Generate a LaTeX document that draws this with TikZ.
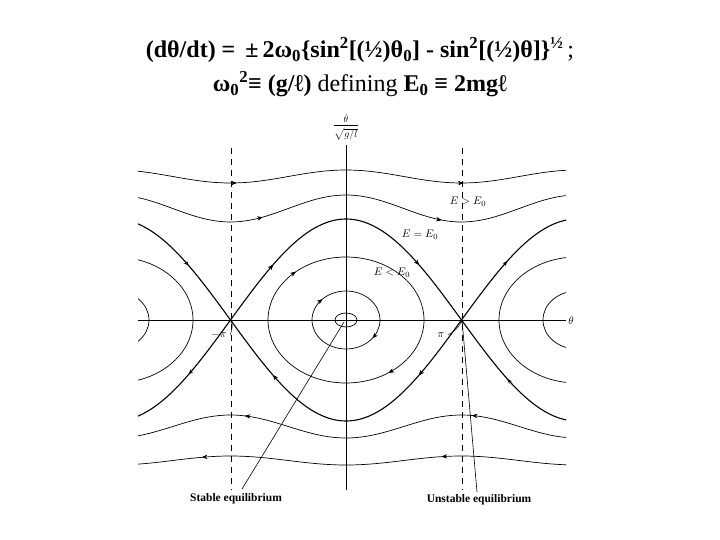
\documentclass[tikz,border=0pt]{standalone}
\usepackage{fontspec}
\setmainfont{Liberation Serif}
\usetikzlibrary{decorations.markings,arrows.meta}
\begin{document}
\begin{tikzpicture}[x=1pt,y=-1pt,
  curve/.style={line width=0.7pt},
  sep/.style={line width=1.1pt},
  ar/.style={postaction={decorate},decoration={markings,mark=at position #1 with {\arrow{Stealth[length=5pt,width=4pt]}}}},
  lab/.style={font=\fontsize{11}{12}\selectfont},
  blab/.style={font=\fontsize{11.5}{12}\selectfont\bfseries}]
\useasboundingbox (0,0) rectangle (720,540);
\node[font=\fontsize{24}{26}\selectfont\bfseries] (t1) at (360,50) {(dθ/dt) = \,±\,2ω\textsubscript{0}\{sin\textsuperscript{2}[(½)θ\textsubscript{0}] - sin\textsuperscript{2}[(½)θ]\}\textsuperscript{½}\,\textmd{;}};
\node[font=\fontsize{24}{26}\selectfont] (t2) at (360,84) {\textbf{ω\textsubscript{0}\textsuperscript{2}≡ (g/ℓ)} defining \textbf{E\textsubscript{0} ≡ 2mgℓ}};
% axes
\draw[line width=0.6pt] (138,320) -- (566,320);
\draw[line width=0.6pt] (346,145) -- (346,490);
\node[lab] (th) at (571,321) {$\theta$};
\node[font=\fontsize{9}{10}\selectfont,inner sep=0pt,anchor=south] (yl) at (346,123) {$\dot\theta$};
\draw (334,125.5) -- (358,125.5);
\node[font=\fontsize{10}{11}\selectfont,inner sep=0pt,anchor=north] (yl2) at (346,128) {$\sqrt{g/l}$};
\draw[dashed,line width=0.8pt,dash pattern=on 6pt off 5pt] (231,148) -- (231,490);
\draw[dashed,line width=0.8pt,dash pattern=on 6pt off 5pt] (462,148) -- (462,490);
\begin{scope}
\clip (138,140) rectangle (566,495);
% wavy rotations
\draw[curve,ar=0.23,ar=0.76] plot[domain=-208:220,samples=80] ({346+\x},{320-(143.5+6.5*cos(\x/115.5*180))});
\draw[curve,ar=0.29,ar=0.71] plot[domain=-208:220,samples=80] ({346+\x},{320-(111.5+13.5*cos(\x/115.5*180))});
\draw[curve,ar=0.22,ar=0.75] plot[domain=220:-208,samples=80] ({346+\x},{320+(106.5+11.5*cos(\x/115.5*180))});
\draw[curve,ar=0.29,ar=0.85] plot[domain=220:-208,samples=80] ({346+\x},{320+(140.5+4.5*cos(\x/115.5*180))});
% separatrices
\draw[sep,ar=0.22,ar=0.78] plot[domain=-115.5:115.5,samples=80] ({346+\x},{320-101*cos(\x/115.5*90)});
\draw[sep,ar=0.22,ar=0.78] plot[domain=115.5:-115.5,samples=80] ({346+\x},{320+101*cos(\x/115.5*90)});
\draw[sep,ar=0.5] plot[domain=-210:-115.5,samples=40] ({346+\x},{320+101*cos(\x/115.5*90)});
\draw[sep,ar=0.5] plot[domain=-115.5:-210,samples=40] ({346+\x},{320-101*cos(\x/115.5*90)});
\draw[sep,ar=0.5] plot[domain=115.5:222,samples=40] ({346+\x},{320+101*cos(\x/115.5*90)});
\draw[sep,ar=0.5] plot[domain=222:115.5,samples=40] ({346+\x},{320-101*cos(\x/115.5*90)});
% librations
\draw[curve] (346,320) ellipse [x radius=11,y radius=7];
\draw[curve,ar=0.1,ar=0.62] (346,320) ellipse [x radius=34,y radius=29];
\draw[curve,ar=0.15,ar=0.63] (346,320) ellipse [x radius=78,y radius=63];
\draw[curve] (115,320) ellipse [x radius=34,y radius=29];
\draw[curve] (115,320) ellipse [x radius=78,y radius=63];
\draw[curve] (577,320) ellipse [x radius=34,y radius=29];
\draw[curve] (577,320) ellipse [x radius=78,y radius=63];
\end{scope}
% labels
\node[lab] (egt) at (468,202) {$E > E_0$};
\node[lab] (eeq) at (420,235) {$E = E_0$};
\node[lab] (elt) at (392,273) {$E < E_0$};
\node[lab] (mpi) at (219,335) {$-\pi$};
\node[lab] (ppi) at (441,335) {$\pi$};
\coordinate (xl) at (231,320);
\coordinate (xr) at (462,320);
\coordinate (c0) at (344,322);
\draw[-{Stealth[length=3pt]}] (mpi.east) to[bend right=20] (xl);
\draw[-{Stealth[length=3pt]}] (ppi.east) to[bend right=20] (xr);
\node[blab] (st) at (236,499) {Stable equilibrium};
\node[blab] (un) at (479,500) {Unstable equilibrium};
\draw[line width=0.6pt] (242,489) -- (c0);
\draw[line width=0.6pt] (477,492) -- (xr);
\end{tikzpicture}
\end{document}
